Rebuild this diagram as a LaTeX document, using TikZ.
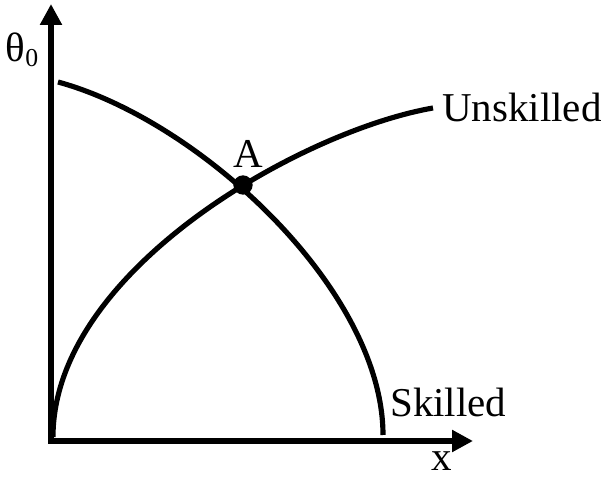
\documentclass[tikz,border=0pt]{standalone}
\usepackage{fontspec}
\setmainfont{Liberation Serif}
\usetikzlibrary{arrows.meta,positioning,calc}
\definecolor{inkDark}{HTML}{000000}

\begin{document}
\begin{tikzpicture}[
  x=0.03cm, y=0.03cm,
  font=\fontsize{35}{42}\selectfont,
  axis/.style={{Triangle[length=6.3mm,width=6.3mm]}-{Triangle[length=6.3mm,width=6.3mm]},
               line width=4.6pt, draw=inkDark},
  curve/.style={line width=4.4pt, draw=inkDark},
  lbl/.style={inner sep=0pt, text=inkDark},
  dot/.style={circle, fill=inkDark, inner sep=0pt, minimum size=5.8mm},
]
\useasboundingbox (-51,-38) rectangle (560,441);

% =============================== axes ======================================
\coordinate (O)    at (0,0);
\coordinate (ytop) at (0,437);
\coordinate (xend) at (422,0);
\draw[axis] (ytop) -- (O) -- (xend);

\node[lbl] (theta) at (-29,391) {θ\raisebox{-0.25ex}{\fontsize{22}{24}\selectfont 0}};
\node[lbl, anchor=base] (xlab) at (391,-30) {x};

% =============================== curves ====================================
% skilled: falls from the theta axis down to the x axis
\coordinate (skStart) at (7,359);
\coordinate (skEnd)   at (332,6);
\draw[curve] (skStart) .. controls (150,320) and (332,150) .. (skEnd);

% unskilled: rises from the origin
\coordinate (unStart) at (2,4);
\coordinate (unEnd)   at (382,333);
\draw[curve] (unStart) .. controls (2,170) and (250,310) .. (unEnd);

\node[lbl, anchor=base west] (skLab) at (339,24)  {Skilled};
\node[lbl, anchor=base west] (unLab) at (391,319) {Unskilled};

% =============================== crossing ==================================
\node[dot] (A) at (192,256) {};
\node[lbl, anchor=base west] (aLab) at (182,273) {A};

\end{tikzpicture}
\end{document}
